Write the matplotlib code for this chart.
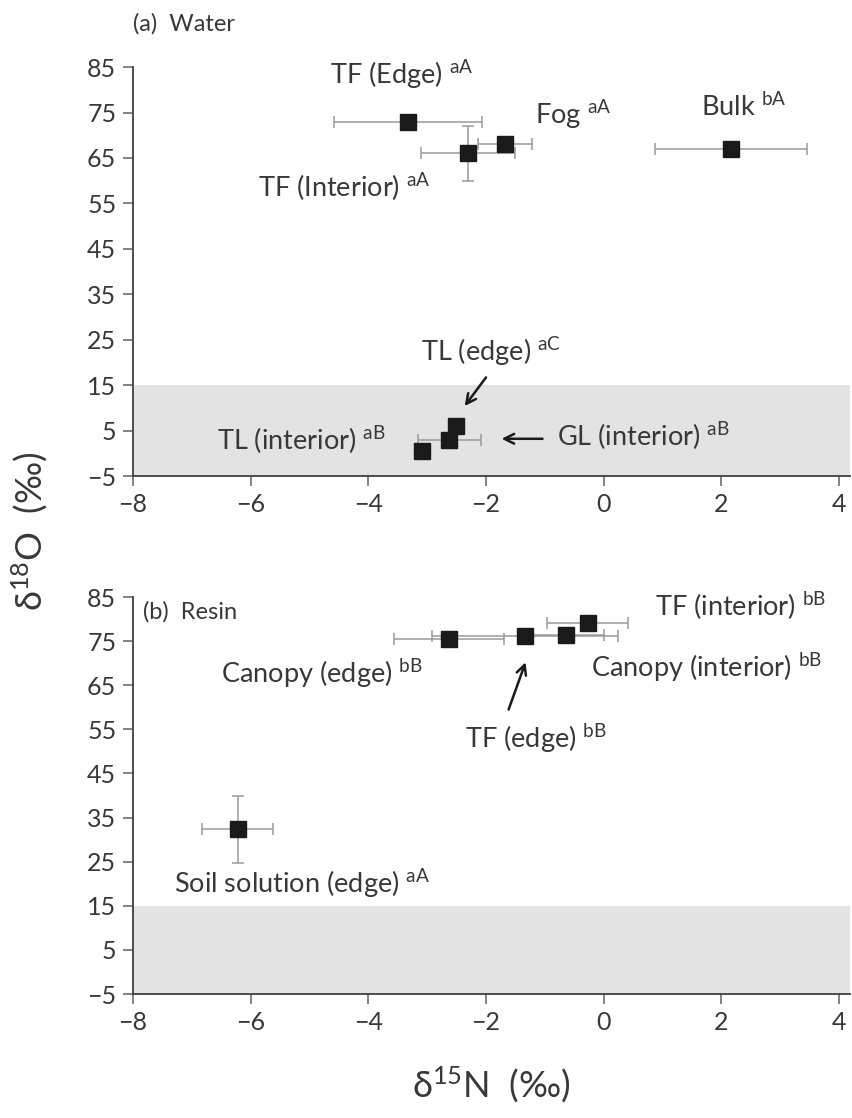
import matplotlib
matplotlib.use("Agg")
import matplotlib.pyplot as plt

plt.rcParams['font.family'] = ['Lato', 'DejaVu Sans']
plt.rcParams['mathtext.fontset'] = 'custom'
plt.rcParams['mathtext.rm'] = 'Lato'
plt.rcParams['mathtext.it'] = 'Lato:italic'
plt.rcParams['mathtext.bf'] = 'Lato:bold'

# ---------------- data ----------------
water_labels = ['TF (Edge)', 'TF (Interior)', 'Fog', 'Bulk',
                'TL (edge)', 'GL (interior)', 'TL (interior)']
water_letters = ['aA', 'aA', 'aA', 'bA', 'aC', 'aB', 'aB']
water_d15N = [-3.33, -2.31, -1.67, 2.17, -2.50, -2.62, -3.09]
water_d18O = [73.0, 66.0, 68.0, 67.0, 6.0, 2.9, 0.5]
water_xerr = [1.26, 0.80, 0.46, 1.29, 0.0, 0.54, 0.0]
water_yerr = [0.0, 6.0, 0.0, 0.0, 0.0, 0.0, 0.0]

resin_labels = ['TF (interior)', 'Canopy (interior)', 'TF (edge)',
                'Canopy (edge)', 'Soil solution (edge)']
resin_letters = ['bB', 'bB', 'bB', 'bB', 'aA']
resin_d15N = [-0.27, -0.64, -1.34, -2.63, -6.22]
resin_d18O = [79.1, 76.4, 76.2, 75.4, 32.3]
resin_xerr = [0.69, 0.64, 1.58, 0.94, 0.60]
resin_yerr = [0.0, 0.0, 0.0, 0.0, 7.7]

x_ticks = [-8, -6, -4, -2, 0, 2, 4]
y_ticks = [-5, 5, 15, 25, 35, 45, 55, 65, 75, 85]

# ---------------- layout ----------------
# label anchor (left x, center y) in data coords
water_label_pos = [(-4.65, 83.3), (-5.87, 58.5), (-1.16, 74.5), (1.65, 76.3),
                   (-3.11, 22.3), (-0.79, 3.8), (-6.57, 2.9)]
resin_label_pos = [(0.87, 83.0), (-0.22, 69.0), (-2.35, 52.9),
                   (-6.50, 67.6), (-7.31, 20.1)]
water_arrows = {4: ((-1.97, 17.2), (-2.39, 9.9)),
                5: ((-0.99, 3.2), (-1.78, 3.2))}
resin_arrows = {2: ((-1.63, 58.9), (-1.31, 70.8))}

TXT = '#383838'
W, H = 853, 1118
fig = plt.figure(figsize=(W / 100, H / 100), dpi=100)
ax_a = fig.add_axes([0.1559, 0.5742, 0.8406, 0.3658])
ax_b = fig.add_axes([0.1559, 0.1109, 0.8406, 0.3551])


def style(ax):
    ax.set_xlim(-8, 4.19)
    ax.set_ylim(-5, 85)
    ax.set_xticks(x_ticks)
    ax.set_yticks(y_ticks)
    ax.axhspan(-5, 15, color='#e3e3e3', zorder=0, lw=0)
    for s in ['top', 'right']:
        ax.spines[s].set_visible(False)
    for s in ['left', 'bottom']:
        ax.spines[s].set_color('#404040')
        ax.spines[s].set_linewidth(1.3)
    ax.tick_params(direction='out', length=7, width=1.1, color='#606060',
                   labelsize=18, labelcolor=TXT, pad=5)


def draw(ax, xs, ys, xe, ye, labels, letters, pos, arrows):
    ax.errorbar(xs, ys, xerr=xe, yerr=ye, fmt='none', ecolor='#9a9a9a',
                elinewidth=1.1, capsize=4, capthick=1.1, zorder=2)
    ax.plot(xs, ys, 's', color='#1a1a1a', markersize=12, zorder=3)
    for i, (lab, let) in enumerate(zip(labels, letters)):
        px, py = pos[i]
        ax.text(px, py, lab + r' $^{\mathrm{' + let + '}}$', fontsize=19.5,
                color=TXT, ha='left', va='center', zorder=4)
    for i, (tail, head) in arrows.items():
        ax.annotate('', xy=head, xytext=tail,
                    arrowprops=dict(arrowstyle='->,head_length=0.7,head_width=0.35',
                                    color='#1a1a1a', lw=1.8))


style(ax_a)
style(ax_b)
draw(ax_a, water_d15N, water_d18O, water_xerr, water_yerr,
     water_labels, water_letters, water_label_pos, water_arrows)
draw(ax_b, resin_d15N, resin_d18O, resin_xerr, resin_yerr,
     resin_labels, resin_letters, resin_label_pos, resin_arrows)

fig.text(0.156, 0.979, '(a)  Water', fontsize=17, color=TXT, ha='left', va='center')
fig.text(0.1676, 0.4526, '(b)  Resin', fontsize=17, color=TXT, ha='left', va='center')

fig.text(0.035, 0.525, r'δ$^{18}$O  (‰)', fontsize=26, color=TXT,
         rotation=90, ha='center', va='center')
fig.text(0.576, 0.0295, r'δ$^{15}$N  (‰)', fontsize=26, color=TXT,
         ha='center', va='center')

fig.savefig('out.png', dpi=100)
